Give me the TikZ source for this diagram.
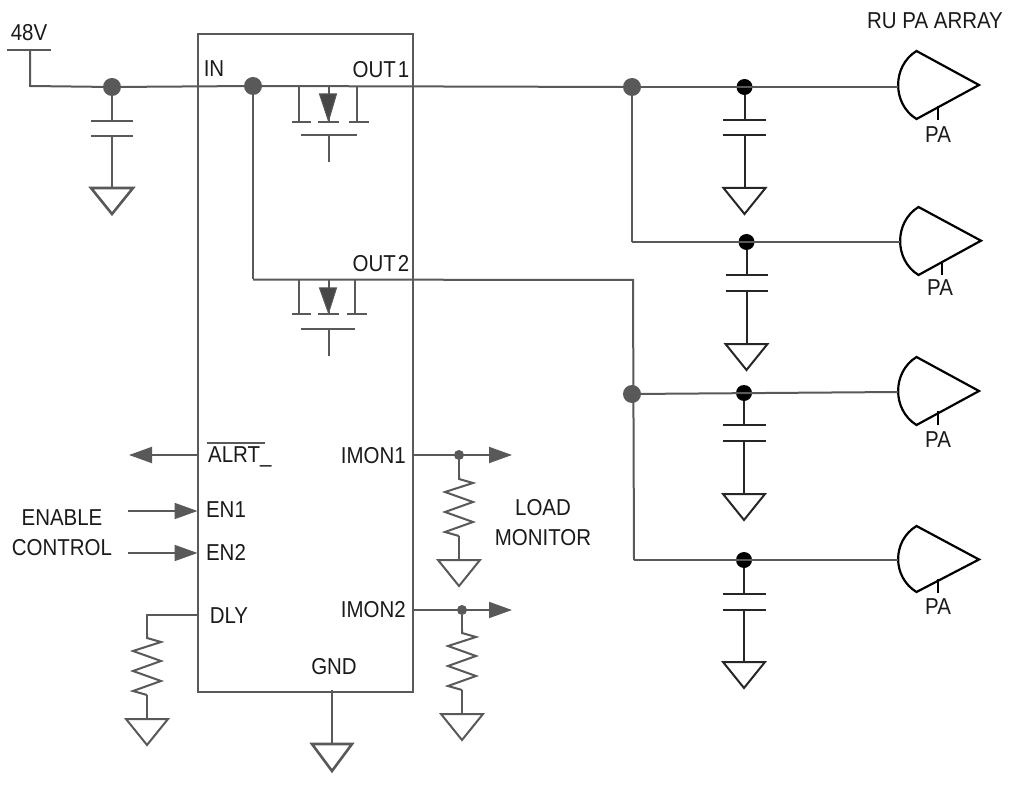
\documentclass[tikz,border=0pt]{standalone}
\usepackage{fontspec}
\setmainfont[FakeStretch=0.89]{Liberation Sans}
\usetikzlibrary{arrows.meta}
\definecolor{wire}{HTML}{595959}
\definecolor{ink}{HTML}{1A1A1A}
\tikzset{
  wireline/.style={draw=wire,line width=2pt},
  blackline/.style={draw=black!85,line width=2pt},
  plate/.style={draw=wire,line width=2pt},
  gndthick/.style={draw=wire,line width=2.6pt,fill=white,line join=miter},
  gndthin/.style={draw=wire,line width=2pt,fill=white,line join=miter},
  gndblack/.style={draw=black!85,line width=2pt,fill=white,line join=miter},
  dotbig/.style={circle,fill=wire,inner sep=0pt,minimum size=18pt},
  dotblack/.style={circle,fill=black,inner sep=0pt,minimum size=16pt},
  dotsmall/.style={circle,fill=wire,inner sep=0pt,minimum size=10pt},
  label/.style={text=ink,inner sep=0pt,font=\fontsize{23}{25}\selectfont},
  arrowline/.style={wireline,-{Triangle[length=23pt,width=16pt]}},
  amp/.style={draw=black,line width=2.2pt,fill=white,line join=miter},
}
% ground symbol: name, style, x, top y, half width, height
\newcommand{\gndsym}[6]{\path[#2] (#3-#5,#4) coordinate (#1) ++(#5,0) coordinate (#1t) ++(#5,0) -- (#3,#4+#6) -- (#3-#5,#4) -- cycle;}
% capacitor + ground below a junction
\newcommand{\capgnd}[8]{%
  \draw[#2] (#1) -- (#3,#4) (#3-#6,#4) -- (#3+#6,#4);
  \draw[#2] (#3-#6,#5) -- (#3+#6,#5) (#3,#5) -- (#3,#7);
  \gndsym{#1g}{#8}{#3}{#7}{21}{26}}
% resistor zigzag, from start (x,y)
\newcommand{\resistor}[4]{%
  \begin{scope}[shift={(#2,#3)}]
  \draw[#4,line join=miter] (0,0) coordinate (#1a) -- (0,4) -- (14,8) -- (-14,17) -- (14,27) -- (-14,37) -- (14,47) -- (-14,57) -- (0,61) coordinate (#1b);
  \end{scope}}
% power amplifier: name, x, line y, stub x, label x, top, bottom, tip, label y
\newcommand{\pasym}[9]{%
  \begin{scope}[shift={(#2,#3)}]
  \draw[amp] (18.5,#6) .. controls (-6,#6+15) and (-6,#7-15) .. (18.5,#7) -- (81,#8) -- cycle;
  \coordinate (#1in) at (0,0);
  \draw[draw=black,line width=1.8pt] (#4,19) -- (#4,33);
  \node[label] (#1lab) at (#5,#9) {PA};
  \end{scope}}
% MOSFET
\newcommand{\fet}[7]{%
  \draw[plate] (299,#2) -- (299,#3) (292,#3) -- (311,#3);
  \draw[plate] (#5,#2) -- (#5,#3) (#5-8,#3) -- (#5+12,#3);
  \draw[plate] (329,#2) -- (329,#3) (318,#3) -- (339,#3);
  \path[fill=wire!80!black,draw=wire,line width=1pt] (319.5,#2+8) -- (336.5,#2+8) -- (328.5,#3-1) -- cycle;
  \draw[plate] (301,#4) -- (#6,#4) (329,#4) -- (329,#7);
}
\begin{document}
\begin{tikzpicture}[x=1pt,y=-1pt]
\useasboundingbox[fill=white] (0,0) rectangle (1020,786);

% chip
\node[draw=wire,line width=2pt,inner sep=0pt,minimum width=215pt,minimum height=657pt,anchor=north west] (chip) at (196.5,33.5) {};

% supply
\coordinate (v48) at (30,50);
\coordinate (v48l) at (7,50);
\coordinate (v48r) at (51,50);
\coordinate (vcor) at (30,86);
\draw[wireline] (v48l) -- (v48r);
\node[dotbig] (jin) at (112,87) {};
\node[dotbig] (jsw) at (253,86) {};
\draw[wireline] (v48) -- (vcor) -- (jin) -- (jsw);
\capgnd{jin}{wireline}{112}{121}{136}{21}{188}{gndthick}

% FETs and rails
\coordinate (c2) at (253,279.5);
\node[dotbig] (j1) at (632,87) {};
\draw[wireline] (jsw) -- (j1);
\draw[wireline] (jsw) -- (c2);
\fet{f1}{86}{122}{135}{357}{357}{162}
\fet{f2}{280}{314}{329}{355}{355}{356}

\coordinate (c3) at (633,280);
\coordinate (c4) at (634,560);
\coordinate (c5) at (632,242);
\node[dotbig] (j3) at (632,394) {};
\draw[wireline] (c2) -- (c3) -- (c4);
\draw[wireline] (j1) -- (c5);

% amplifiers
\pasym{a}{898}{87}{40}{40}{-36}{32}{-2}{48}
\pasym{b}{900}{242}{42}{40}{-35}{33}{-1.3}{46}
\pasym{c}{898}{392}{40}{40}{-35}{33}{-1}{48}
\pasym{d}{898}{560}{40}{40}{-34}{32}{-0.5}{47}

\node[dotblack] (k1) at (744.5,87) {};
\node[dotblack] (k2) at (746.5,242) {};
\node[dotblack] (k3) at (744,393) {};
\node[dotblack] (k4) at (744,560) {};

\draw[wireline] (j1) -- (ain);
\draw[wireline] (c5) -- (bin);
\draw[wireline] (j3) -- (cin);
\draw[wireline] (c4) -- (din);

\capgnd{k1}{blackline}{744.5}{120}{135}{21.5}{188}{gndblack}
\capgnd{k2}{blackline}{746.5}{275}{291}{21}{344}{gndblack}
\capgnd{k3}{blackline}{744}{425}{441}{21.5}{494}{gndblack}
\capgnd{k4}{blackline}{744}{594}{610}{21.5}{662}{gndblack}

% ALRT
\coordinate (palrt) at (197.5,455);
\coordinate (alrtend) at (129,455);
\draw[arrowline] (palrt) -- (alrtend);

% enable inputs
\coordinate (en1s) at (128,511);
\coordinate (en2s) at (128,553);
\coordinate (en1e) at (197.5,511);
\coordinate (en2e) at (197.5,553);
\draw[arrowline] (en1s) -- (en1e);
\draw[arrowline] (en2s) -- (en2e);

% IMON1
\coordinate (m1s) at (412,455);
\coordinate (m1e) at (512,455);
\node[dotsmall] (m1j) at (459,455) {};
\draw[arrowline] (m1s) -- (m1e);
\resistor{r1}{459}{475}{wireline}
\draw[wireline] (m1j) -- (r1a);
\gndsym{g1}{gndthin}{459}{560}{21}{26}
\draw[wireline] (r1b) -- (g1t);

% IMON2
\coordinate (m2s) at (412,610);
\coordinate (m2e) at (512,610);
\node[dotsmall] (m2j) at (462,610) {};
\draw[arrowline] (m2s) -- (m2e);
\resistor{r2}{462}{629}{wireline}
\draw[wireline] (m2j) -- (r2a);
\gndsym{g2}{gndthin}{462}{714}{21}{26}
\draw[wireline] (r2b) -- (g2t);

% DLY
\coordinate (dlys) at (197.5,615);
\coordinate (dlyc) at (147,615);
\resistor{r3}{147}{634}{wireline}
\draw[wireline] (dlys) -- (dlyc) -- (r3a);
\gndsym{g3}{gndthin}{147}{719}{21}{26}
\draw[wireline] (r3b) -- (g3t);

% GND
\coordinate (gnds) at (332,690);
\gndsym{g4}{gndthick}{332}{744}{20}{27}
\draw[wireline] (gnds) -- (g4t);

% labels
\node[label] (t48) at (29,33) {48V};
\node[label] (tin) at (214,69) {IN};
\node[label] (to1) at (381,70) {OUT\kern2pt 1};
\node[label] (to2) at (381,264) {OUT\kern2pt 2};
\node[label,anchor=west] (talrt) at (208,457) {ALRT\_};
\coordinate (ov1) at (207,443);
\coordinate (ov2) at (265,443);
\draw[draw=wire,line width=1.5pt] (ov1) -- (ov2);
\node[label,anchor=east] (tm1) at (406,456) {IMON1};
\node[label,anchor=east] (tm2) at (406,610) {IMON2};
\node[label] (te1) at (226,510) {EN1};
\node[label] (te2) at (226,552) {EN2};
\node[label] (tena) at (62,518) {ENABLE};
\node[label] (tctl) at (62,548) {CONTROL};
\node[label] (tload) at (543,508) {LOAD};
\node[label] (tmon) at (543,538) {MONITOR};
\node[label] (tdly) at (229,616) {DLY};
\node[label] (tgnd) at (334,667) {GND};
\node[label] (tru) at (935,21) {RU PA ARRAY};
\end{tikzpicture}
\end{document}
